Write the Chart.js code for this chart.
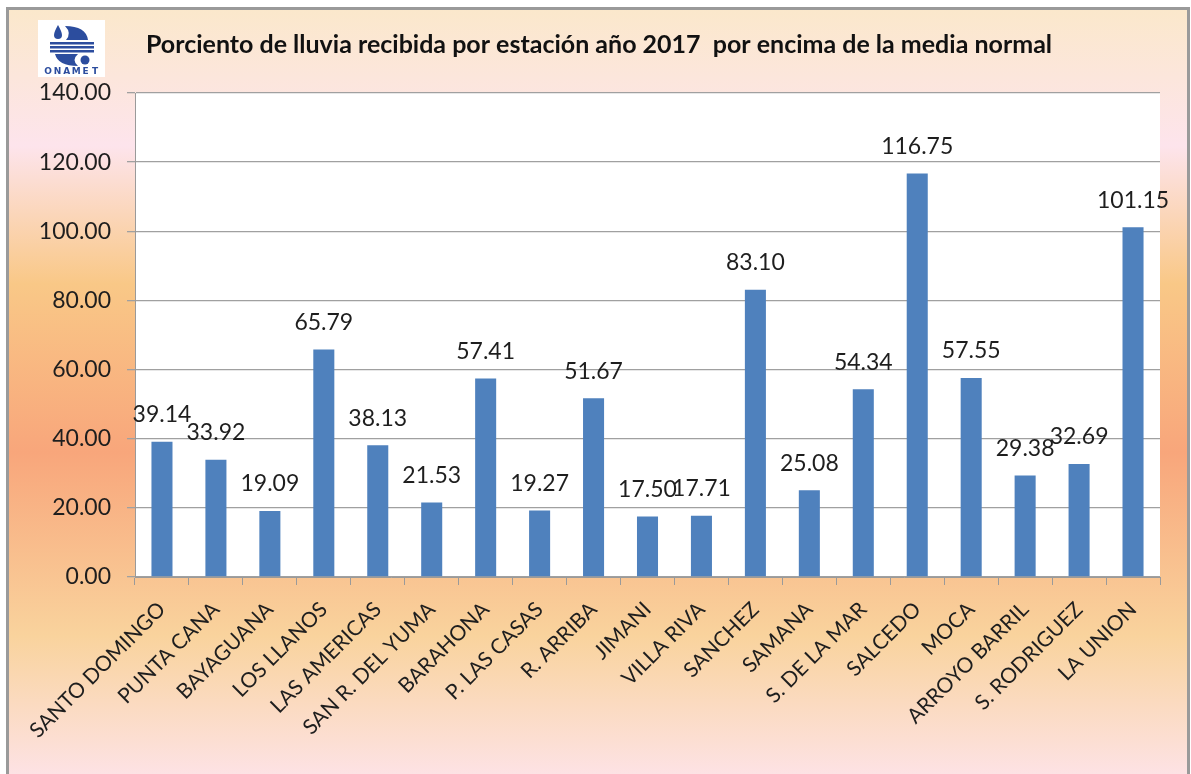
<!DOCTYPE html>
<html>
<head>
<meta charset="utf-8">
<script src="https://cdn.jsdelivr.net/npm/chart.js@4.4.1/dist/chart.umd.min.js"></script>
<style>
  html, body { margin: 0; padding: 0; background: #ffffff; }
  #wrap { width: 1191px; height: 774px; position: relative; }
</style>
</head>
<body>
<div id="wrap"><canvas id="c" width="1191" height="774"></canvas></div>
<script>
const categories = ["SANTO DOMINGO", "PUNTA CANA", "BAYAGUANA", "LOS LLANOS", "LAS AMERICAS",
  "SAN R. DEL YUMA", "BARAHONA", "P. LAS CASAS", "R. ARRIBA", "JIMANI", "VILLA RIVA",
  "SANCHEZ", "SAMANA", "S. DE LA MAR", "SALCEDO", "MOCA", "ARROYO BARRIL", "S. RODRIGUEZ", "LA UNION"];
const values = [39.14, 33.92, 19.09, 65.79, 38.13, 21.53, 57.41, 19.27, 51.67, 17.50, 17.71,
  83.10, 25.08, 54.34, 116.75, 57.55, 29.38, 32.69, 101.15];
const yTicks = [0, 20, 40, 60, 80, 100, 120, 140];
const titleText = "Porciento de lluvia recibida por estación año 2017  por encima de la media normal";
const logoText = "ONAMET";

const FONT = "Lato, 'Liberation Sans', sans-serif";

const bgPlugin = {
  id: 'bg',
  beforeDraw(chart) {
    const ctx = chart.ctx;
    const W = chart.width, H = chart.height;
    ctx.save();
    ctx.fillStyle = '#ffffff';
    ctx.fillRect(0, 0, W, H);
    const g = ctx.createLinearGradient(0, 8, 0, H);
    g.addColorStop(0.00, '#fbe8cb');
    g.addColorStop(0.18, '#fde4ec');
    g.addColorStop(0.36, '#f9c887');
    g.addColorStop(0.58, '#f8a67b');
    g.addColorStop(0.82, '#f9d39d');
    g.addColorStop(1.00, '#fde2e4');
    ctx.fillStyle = g;
    ctx.fillRect(7, 8, W - 9, H - 8);
    ctx.strokeStyle = '#9a9a9a';
    ctx.lineWidth = 3;
    ctx.strokeRect(7.5, 8.5, W - 10, H + 4);
    const a = chart.chartArea;
    ctx.fillStyle = '#ffffff';
    ctx.fillRect(a.left, a.top, a.right - a.left, a.bottom - a.top);
    // logo
    const lx = 38, ly = 20;
    ctx.fillStyle = '#ffffff';
    ctx.fillRect(lx, ly, 67, 57);
    ctx.fillStyle = '#2c4d9e';
    // drop
    ctx.beginPath();
    ctx.moveTo(lx + 20, ly + 5);
    ctx.quadraticCurveTo(lx + 16, ly + 12, lx + 16, ly + 15);
    ctx.arc(lx + 20, ly + 15, 4, Math.PI, 0, true);
    ctx.quadraticCurveTo(lx + 24, ly + 12, lx + 20, ly + 5);
    ctx.fill();
    // upper crescent
    ctx.beginPath();
    ctx.moveTo(lx + 27, ly + 6);
    ctx.quadraticCurveTo(lx + 48, ly + 6, lx + 50, ly + 20);
    ctx.lineTo(lx + 28, ly + 20);
    ctx.quadraticCurveTo(lx + 34, ly + 13, lx + 27, ly + 6);
    ctx.fill();
    // stripes
    ctx.fillRect(lx + 12, ly + 22, 44, 2.5);
    ctx.fillRect(lx + 12, ly + 26, 44, 2.5);
    ctx.fillRect(lx + 12, ly + 30, 44, 2.5);
    // lower crescent
    ctx.beginPath();
    ctx.moveTo(lx + 17, ly + 34);
    ctx.lineTo(lx + 40, ly + 34);
    ctx.quadraticCurveTo(lx + 33, ly + 40, lx + 40, ly + 46);
    ctx.quadraticCurveTo(lx + 20, ly + 46, lx + 17, ly + 34);
    ctx.fill();
    ctx.beginPath();
    ctx.arc(lx + 47, ly + 40, 4.5, 0, Math.PI * 2);
    ctx.fill();
    ctx.font = "bold 9px 'DejaVu Sans', sans-serif";
    ctx.textAlign = 'center';
    ctx.textBaseline = 'middle';
    const letters = logoText.split('');
    letters.forEach((ch, i) => ctx.fillText(ch, lx + 10 + i * 9.4, ly + 52));
    ctx.restore();
  }
};

const labelPlugin = {
  id: 'valLabels',
  afterDatasetsDraw(chart) {
    const ctx = chart.ctx;
    const meta = chart.getDatasetMeta(0);
    ctx.save();
    ctx.font = "23px " + FONT;
    ctx.fillStyle = '#1e1e1e';
    ctx.textAlign = 'center';
    ctx.textBaseline = 'middle';
    meta.data.forEach((bar, i) => {
      ctx.fillText(values[i].toFixed(2), bar.x, bar.y - 27);
    });
    ctx.restore();
  }
};

new Chart(document.getElementById('c'), {
  type: 'bar',
  data: {
    labels: categories,
    datasets: [{
      data: values,
      backgroundColor: '#4f81bd',
      borderWidth: 0,
      categoryPercentage: 1,
      barPercentage: 0.39
    }]
  },
  options: {
    responsive: false,
    animation: false,
    events: [],
    layout: { padding: { left: 38, right: 31, top: 0, bottom: 0 } },
    plugins: {
      legend: { display: false },
      tooltip: { enabled: false },
      title: {
        display: true,
        text: titleText,
        color: '#111111',
        font: { family: FONT, size: 25, weight: 'bold' },
        padding: { top: 30, bottom: 33 }
      }
    },
    scales: {
      x: {
        grid: { display: true, drawOnChartArea: false, drawTicks: true, tickLength: 8, color: '#9a9a9a', offset: true },
        border: { display: true, color: '#9a9a9a' },
        ticks: {
          color: '#1e1e1e',
          font: { family: FONT, size: 21 },
          maxRotation: 45, minRotation: 45,
          autoSkip: false,
          padding: 12
        },
        afterFit(scale) { scale.height = 197; }
      },
      y: {
        min: 0, max: 140,
        afterBuildTicks(scale) { scale.ticks = yTicks.map(v => ({ value: v })); },
        grid: { color: '#a0a0a0', lineWidth: 1.3, tickLength: 8 },
        border: { display: true, color: '#9a9a9a' },
        ticks: {
          color: '#1e1e1e',
          font: { family: FONT, size: 23 },
          padding: 16,
          callback: v => Number(v).toFixed(2)
        },
        afterFit(scale) { scale.width = 97; }
      }
    }
  },
  plugins: [bgPlugin, labelPlugin]
});
</script>
</body>
</html>
